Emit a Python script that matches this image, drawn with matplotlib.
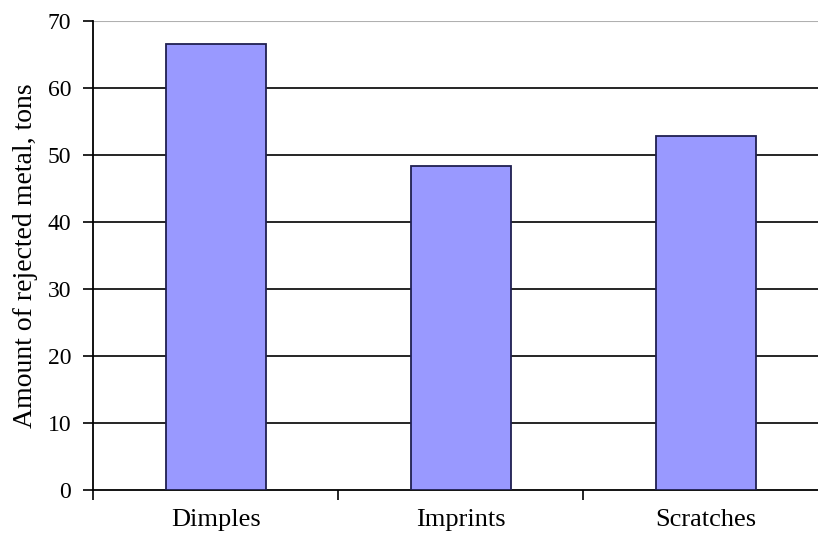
import matplotlib
matplotlib.use("Agg")
import matplotlib.pyplot as plt
import numpy as np

defects = ["Dimples", "Imprints", "Scratches"]
rejected_tons = [66.6, 48.4, 52.9]
y_ticks = [0, 10, 20, 30, 40, 50, 60, 70]

plt.rcParams['font.family'] = ['Liberation Serif', 'DejaVu Serif']

fig = plt.figure(figsize=(8.18, 5.33), dpi=100)
ax = fig.add_axes([0.1143, 0.0807, 0.8985, 0.8799])

x = np.arange(len(defects))
ax.bar(x, rejected_tons, width=0.405, color="#9999ff",
       edgecolor="#202050", linewidth=1.3, zorder=3)

# horizontal grid lines; the top one is drawn lighter
for v in y_ticks[1:-1]:
    ax.axhline(v, color="black", linewidth=1.2, zorder=1)
ax.axhline(y_ticks[-1], color="#b0b0b0", linewidth=1.5, zorder=1)

ax.set_xlim(-0.5, len(defects) - 0.5)
ax.set_ylim(0, 70)
ax.set_yticks(y_ticks)
ax.set_xticks(x)
ax.set_xticklabels(defects, fontsize=19)
ax.set_xticks(np.arange(-0.5, len(defects)), minor=True)
ax.tick_params(axis="x", which="major", length=0, pad=14)
ax.tick_params(axis="x", which="minor", length=7, width=1.2, direction="out")
ax.tick_params(axis="y", length=7, width=1.2, direction="out", labelsize=17, pad=9)

for side in ("top", "right"):
    ax.spines[side].set_visible(False)
for side in ("left", "bottom"):
    ax.spines[side].set_linewidth(1.3)

ax.set_ylabel("Amount of rejected metal, tons", fontsize=20, labelpad=7)

fig.savefig("out.png", dpi=100)
